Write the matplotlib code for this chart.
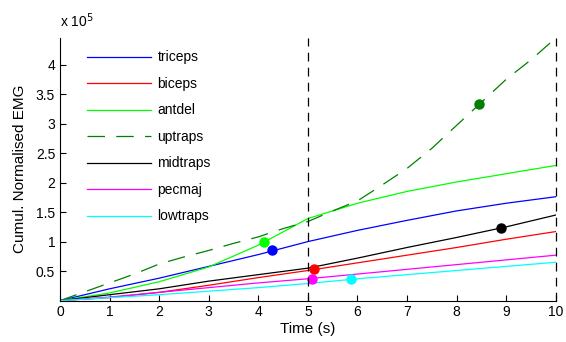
import numpy as np
import matplotlib
matplotlib.use("Agg")
import matplotlib.pyplot as plt

plt.rcParams['font.family'] = ['Liberation Sans', 'DejaVu Sans']

# time axis (s) and cumulative normalised EMG (x 1e5)
t = [0, 1, 2, 3, 4, 5, 6, 7, 8, 9, 10]
triceps = [0, 0.20, 0.38, 0.58, 0.78, 1.00, 1.19, 1.36, 1.52, 1.65, 1.76]
biceps = [0, 0.05, 0.14, 0.26, 0.39, 0.51, 0.64, 0.77, 0.90, 1.04, 1.17]
antdel = [0, 0.13, 0.32, 0.57, 0.94, 1.39, 1.65, 1.85, 2.01, 2.15, 2.29]
midtraps = [0, 0.10, 0.20, 0.33, 0.44, 0.55, 0.72, 0.90, 1.07, 1.25, 1.45]
pecmaj = [0, 0.06, 0.14, 0.22, 0.30, 0.37, 0.45, 0.53, 0.61, 0.69, 0.77]
lowtraps = [0, 0.05, 0.10, 0.16, 0.22, 0.29, 0.37, 0.44, 0.51, 0.58, 0.65]

# uptraps read at half-second steps (it bends more)
t_up = [0, 0.5, 1, 1.5, 2, 2.5, 3, 3.5, 4, 4.5, 5, 5.5, 6, 6.5, 7, 7.5, 8, 8.5, 9, 9.5, 10]
uptraps = [0, 0.15, 0.30, 0.45, 0.62, 0.74, 0.85, 0.97, 1.08, 1.22, 1.34,
           1.52, 1.69, 1.96, 2.24, 2.58, 2.97, 3.36, 3.75, 4.08, 4.45]

# dots marked on each curve (time, value)
mark_t = {'triceps': 4.27, 'biceps': 5.13, 'antdel': 4.11, 'uptraps': 8.45,
          'midtraps': 8.90, 'pecmaj': 5.08, 'lowtraps': 5.86}
mark_v = {'triceps': 0.85, 'biceps': 0.53, 'antdel': 0.99, 'uptraps': 3.33,
          'midtraps': 1.23, 'pecmaj': 0.37, 'lowtraps': 0.36}

series = [
    ('triceps', t, triceps, (0, 0, 1), '-'),
    ('biceps', t, biceps, (1, 0, 0), '-'),
    ('antdel', t, antdel, (0, 1, 0), '-'),
    ('uptraps', t_up, uptraps, (0, 0.5, 0), '--'),
    ('midtraps', t, midtraps, (0, 0, 0), '-'),
    ('pecmaj', t, pecmaj, (1, 0, 1), '-'),
    ('lowtraps', t, lowtraps, (0, 1, 1), '-'),
]

fig = plt.figure(figsize=(5.66, 3.42), dpi=100)
ax = fig.add_axes([0.106, 0.121, 0.876, 0.768])

for name, x, y, col, ls in series:
    line, = ax.plot(x, y, color=col, lw=0.9, label=name)
    if ls == '--':
        line.set_dashes((14, 9))
for name, x, y, col, ls in series:
    ax.plot(mark_t[name], mark_v[name], 'o', color=col, ms=6.5, mec=col)

# dashed markers at 5 s and 10 s
ax.axvline(5, color='k', lw=0.9, ls=(0, (7, 5)), clip_on=False)
ax.axvline(10, color='k', lw=0.9, ls=(0, (7, 5)), clip_on=False)

ax.set_xlim(0, 10)
ax.set_ylim(0, 4.45)
ax.set_xticks(range(0, 11))
ax.set_yticks([0.5, 1, 1.5, 2, 2.5, 3, 3.5, 4])
ax.set_yticklabels(['0.5', '1', '1.5', '2', '2.5', '3', '3.5', '4'])
ax.tick_params(direction='in', length=4, labelsize=10, width=0.8)
ax.spines['top'].set_visible(False)
ax.spines['right'].set_visible(False)

ax.set_xlabel('Time (s)', fontsize=11, labelpad=2)
ax.set_ylabel('Cumul. Normalised EMG', fontsize=11, labelpad=6)
ax.text(0, 1.03, r'x 10$^5$', transform=ax.transAxes, fontsize=10, va='bottom')

ax.legend(loc='upper left', frameon=False, fontsize=10, handlelength=4.6,
          handletextpad=0.45, labelspacing=0.9, bbox_to_anchor=(0.03, 1.0))

fig.savefig('out.png', dpi=100)
